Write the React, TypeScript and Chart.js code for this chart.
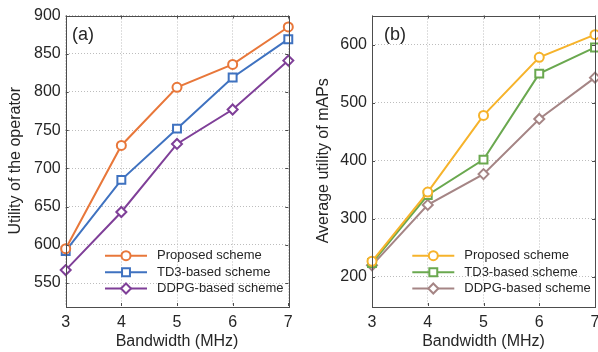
import React, { useEffect, useRef } from "react";
import { Chart, registerables } from "chart.js";

Chart.register(...registerables);

const bandwidth = ["3", "4", "5", "6", "7"];
const seriesNames = ["Proposed scheme", "TD3-based scheme", "DDPG-based scheme"];

const operatorProposed = [595, 730, 806, 836, 885];
const operatorTD3 = [592, 685, 752, 819, 869];
const operatorDDPG = [567, 643, 732, 777, 841];

const mapsProposed = [227, 346, 478, 578, 617];
const mapsTD3 = [224, 341, 402, 550, 595];
const mapsDDPG = [220, 324, 377, 472, 543];

const operatorTicks = [550, 600, 650, 700, 750, 800, 850, 900];
const mapsTicks = [200, 300, 400, 500, 600];

const FONT = "'Liberation Sans', Arial, Helvetica, sans-serif";
const TEXT = "#262626";

type PanelCfg = {
  width: number;
  left: number;
  yWidth: number;
  padRight: number;
  yMin: number;
  yMax: number;
  yTitle: string;
  yTitleX: number;
  label: string;
  labelX: number;
  legendX: number;
  colors: string[];
  data: number[][];
  ticks: number[];
};

const markers = ["circle", "rect", "rectRot"];
const markerRadius = [4.5, 5.6, 5];

function Panel({ cfg }: { cfg: PanelCfg }) {
  const ref = useRef<HTMLCanvasElement | null>(null);
  useEffect(() => {
    if (!ref.current) return;
    const top = 15.5;
    const bottom = 306;
    const overlay = {
      id: "overlay",
      afterDraw(chart: any) {
        const ctx = chart.ctx;
        const a = chart.chartArea;
        const xs = chart.scales.x;
        const ys = chart.scales.y;
        ctx.save();
        // box
        ctx.strokeStyle = "#4d4d4d";
        ctx.lineWidth = 1;
        ctx.setLineDash([]);
        ctx.strokeRect(Math.round(a.left) + 0.5, Math.round(a.top) + 0.5, Math.round(a.right - a.left), Math.round(a.bottom - a.top));
        // inside ticks
        ctx.beginPath();
        for (let i = 0; i < bandwidth.length; i++) {
          const px = Math.round(xs.getPixelForValue(i)) + 0.5;
          ctx.moveTo(px, a.bottom);
          ctx.lineTo(px, a.bottom - 3);
          ctx.moveTo(px, a.top);
          ctx.lineTo(px, a.top + 3);
        }
        for (const t of cfg.ticks) {
          const py = Math.round(ys.getPixelForValue(t)) + 0.5;
          ctx.moveTo(a.left, py);
          ctx.lineTo(a.left + 3, py);
          ctx.moveTo(a.right, py);
          ctx.lineTo(a.right - 3, py);
        }
        ctx.stroke();
        // titles
        ctx.fillStyle = TEXT;
        ctx.font = `16px ${FONT}`;
        ctx.textAlign = "center";
        ctx.textBaseline = "middle";
        ctx.fillText("Bandwidth (MHz)", (a.left + a.right) / 2, 341.5);
        ctx.save();
        ctx.translate(cfg.yTitleX, (a.top + a.bottom) / 2);
        ctx.rotate(-Math.PI / 2);
        ctx.fillText(cfg.yTitle, 0, 0);
        ctx.restore();
        // panel label
        ctx.font = `18px ${FONT}`;
        ctx.textAlign = "left";
        ctx.fillText(cfg.label, cfg.labelX, 35.5);
        // legend
        const rows = [255.7, 272.2, 288.5];
        for (let i = 0; i < 3; i++) {
          const y = rows[i];
          const x0 = cfg.legendX;
          ctx.strokeStyle = cfg.colors[i];
          ctx.lineWidth = 2;
          ctx.beginPath();
          ctx.moveTo(x0, y);
          ctx.lineTo(x0 + 42, y);
          ctx.stroke();
          ctx.fillStyle = "#ffffff";
          ctx.beginPath();
          const cx = x0 + 21;
          const r = markerRadius[i];
          if (i === 0) {
            ctx.arc(cx, y, r, 0, Math.PI * 2);
          } else if (i === 1) {
            const s = Math.SQRT1_2 * r;
            ctx.rect(cx - s, y - s, 2 * s, 2 * s);
          } else {
            ctx.moveTo(cx, y - r);
            ctx.lineTo(cx + r, y);
            ctx.lineTo(cx, y + r);
            ctx.lineTo(cx - r, y);
            ctx.closePath();
          }
          ctx.fill();
          ctx.stroke();
          ctx.fillStyle = TEXT;
          ctx.font = `13px ${FONT}`;
          ctx.textAlign = "left";
          ctx.fillText(seriesNames[i], x0 + 52, y);
        }
        ctx.restore();
      },
    };
    const chart = new Chart(ref.current, {
      type: "line",
      data: {
        labels: bandwidth,
        datasets: cfg.data.map((d, i) => ({
          label: seriesNames[i],
          data: d,
          borderColor: cfg.colors[i],
          backgroundColor: "#ffffff",
          pointBackgroundColor: "#ffffff",
          pointBorderColor: cfg.colors[i],
          pointStyle: markers[i] as any,
          pointRadius: markerRadius[i],
          pointBorderWidth: 2,
          borderWidth: 2,
          tension: 0,
          clip: false as any,
        })),
      },
      options: {
        animation: false,
        responsive: false,
        maintainAspectRatio: false,
        events: [],
        layout: { autoPadding: false, padding: { left: 0, right: cfg.padRight, top: top, bottom: 0 } },
        plugins: { legend: { display: false }, tooltip: { enabled: false }, title: { display: false } },
        scales: {
          x: {
            type: "category",
            offset: false,
            grid: { color: "#bdbdbd", lineWidth: 1, drawTicks: false },
            border: { display: false, dash: [1, 2] },
            ticks: { color: TEXT, font: { family: FONT, size: 16 }, padding: 7, maxRotation: 0, autoSkip: false },
            afterFit(scale: any) {
              scale.height = 352 - bottom;
              scale.paddingLeft = 0;
              scale.paddingRight = 0;
            },
          },
          y: {
            type: "linear",
            min: cfg.yMin,
            max: cfg.yMax,
            grid: { color: "#bdbdbd", lineWidth: 1, drawTicks: false },
            border: { display: false, dash: [1, 2] },
            afterBuildTicks(scale: any) {
              scale.ticks = cfg.ticks.map((v) => ({ value: v }));
            },
            ticks: { color: TEXT, font: { family: FONT, size: 16 }, padding: 5 },
            afterFit(scale: any) {
              scale.width = cfg.yWidth;
              scale.paddingTop = 0;
              scale.paddingBottom = 0;
            },
          },
        },
      },
      plugins: [overlay],
    });
    return () => chart.destroy();
  }, [cfg]);
  return (
    <canvas
      ref={ref}
      width={cfg.width}
      height={352}
      style={{ position: "absolute", left: cfg.left, top: 0, width: cfg.width, height: 352 }}
    />
  );
}

const panelA: PanelCfg = {
  width: 300,
  left: 0,
  yWidth: 65.7,
  padRight: 11.7,
  yMin: 520,
  yMax: 900,
  yTitle: "Utility of the operator",
  yTitleX: 16,
  label: "(a)",
  labelX: 72,
  legendX: 105,
  colors: ["#e8773a", "#3f72c0", "#7f3f98"],
  data: [operatorProposed, operatorTD3, operatorDDPG],
  ticks: operatorTicks,
};

const panelB: PanelCfg = {
  width: 298,
  left: 300,
  yWidth: 72,
  padRight: 3,
  yMin: 150,
  yMax: 650,
  yTitle: "Average utility of mAPs",
  yTitleX: 23.5,
  label: "(b)",
  labelX: 84,
  legendX: 112.3,
  colors: ["#f6b32b", "#6aa84f", "#a58585"],
  data: [mapsProposed, mapsTD3, mapsDDPG],
  ticks: mapsTicks,
};

export default function App() {
  return (
    <div style={{ position: "fixed", left: 0, top: 0, width: 598, height: 352, background: "#ffffff", overflow: "hidden" }}>
      <Panel cfg={panelA} />
      <Panel cfg={panelB} />
    </div>
  );
}
